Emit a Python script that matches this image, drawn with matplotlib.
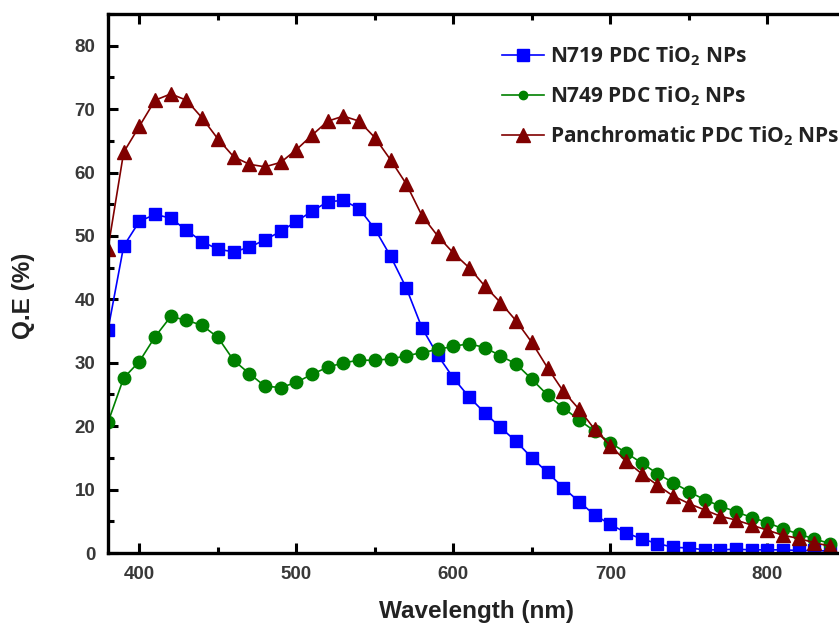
import numpy as np
import matplotlib
matplotlib.use("Agg")
import matplotlib.pyplot as plt
from matplotlib.ticker import MultipleLocator

# wavelength grid (nm)
wavelength = np.arange(380, 841, 10)

# Q.E (%)
qe_n719 = [35.2, 48.4, 52.3, 53.4, 52.8, 50.9, 49.1, 47.9, 47.5, 48.2,
           49.4, 50.7, 52.3, 53.9, 55.4, 55.6, 54.3, 51.1, 46.8, 41.8,
           35.5, 31.2, 27.6, 24.6, 22.1, 19.8, 17.6, 15.0, 12.7, 10.3,
           8.1, 6.0, 4.5, 3.2, 2.2, 1.5, 0.9, 0.8, 0.5, 0.5,
           0.6, 0.5, 0.5, 0.5, 0.4, 0.4, 0.3]
qe_n749 = [20.6, 27.6, 30.2, 34.1, 37.3, 36.7, 35.9, 34.0, 30.4, 28.3,
           26.3, 26.1, 26.9, 28.2, 29.3, 30.0, 30.4, 30.4, 30.6, 31.1,
           31.6, 32.1, 32.6, 33.0, 32.4, 31.1, 29.8, 27.4, 24.9, 22.9,
           21.0, 19.2, 17.4, 15.8, 14.2, 12.5, 11.1, 9.7, 8.4, 7.4,
           6.5, 5.6, 4.8, 3.8, 3.0, 2.2, 1.5]
qe_pan = [48.0, 63.2, 67.3, 71.4, 72.4, 71.4, 68.6, 65.3, 62.5, 61.3,
          60.9, 61.6, 63.6, 65.9, 68.1, 68.9, 68.1, 65.5, 62.0, 58.2,
          53.2, 50.0, 47.3, 45.0, 42.1, 39.5, 36.6, 33.2, 29.2, 25.5,
          22.7, 19.5, 16.9, 14.5, 12.5, 10.7, 9.0, 7.8, 6.8, 5.8,
          5.2, 4.4, 3.6, 2.8, 2.3, 1.6, 1.1]

labels = ["N719 PDC TiO$_\\mathbf{2}$ NPs",
          "N749 PDC TiO$_\\mathbf{2}$ NPs",
          "Panchromatic PDC TiO$_\\mathbf{2}$ NPs"]

plt.rcParams['mathtext.fontset'] = 'custom'
plt.rcParams['mathtext.rm'] = 'Open Sans'
plt.rcParams['mathtext.bf'] = 'Open Sans:bold'

fig = plt.figure(figsize=(8.39, 6.30), dpi=100)
ax = fig.add_axes([0.1287, 0.1222, 0.8795, 0.8556])

ax.plot(wavelength, qe_n719, color='#0000ff', marker='s', markersize=8,
        linewidth=1.2, label=labels[0])
ax.plot(wavelength, qe_n749, color='#008000', marker='o', markersize=9,
        linewidth=1.2, label=labels[1])
ax.plot(wavelength, qe_pan, color='#800000', marker='^', markersize=10.5,
        linewidth=1.2, label=labels[2])

ax.set_xlim(380, 850)
ax.set_ylim(0, 85)

ax.xaxis.set_major_locator(MultipleLocator(100))
ax.xaxis.set_minor_locator(MultipleLocator(50))
ax.yaxis.set_major_locator(MultipleLocator(10))
ax.yaxis.set_minor_locator(MultipleLocator(5))

ax.tick_params(which='both', direction='in', top=True, right=False,
               width=2.2, colors='black', labelcolor='#383838')
ax.tick_params(which='major', length=7, labelsize=13.5, pad=9)
ax.tick_params(which='minor', length=4)
for lbl in ax.get_xticklabels() + ax.get_yticklabels():
    lbl.set_fontfamily('Liberation Sans')
    lbl.set_fontweight('bold')

for s in ['left', 'bottom', 'top']:
    ax.spines[s].set_linewidth(2.4)
ax.spines['right'].set_visible(False)

ax.set_xlabel('Wavelength (nm)', fontsize=17.5, fontweight='bold',
              family='Liberation Sans', color='#222222')
ax.set_ylabel('Q.E (%)', fontsize=17.5, fontweight='bold',
              family='Liberation Sans', color='#222222')
ax.xaxis.set_label_coords(0.5, -0.088)
ax.yaxis.set_label_coords(-0.099, 0.477)

leg = ax.legend(loc='upper left', bbox_to_anchor=(502 / 839, 1 - 44 / 630),
                bbox_transform=fig.transFigure, frameon=False,
                prop={'family': 'Open Sans', 'weight': 'bold', 'size': 15},
                handlelength=2.0, handletextpad=0.3, labelspacing=0.8,
                borderpad=0, borderaxespad=0)
leg.legend_handles[1].set_markersize(6)
for t in leg.get_texts():
    t.set_color('#222222')

fig.savefig('out.png', dpi=100)
